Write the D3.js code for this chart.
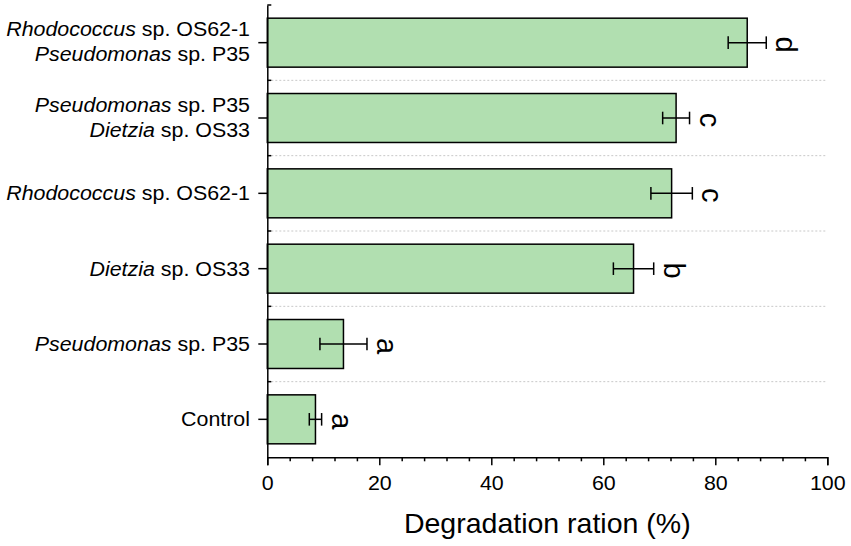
<!DOCTYPE html>
<html>
<head>
<meta charset="utf-8">
<script src="https://cdn.jsdelivr.net/npm/d3@7"></script>
<style>
  body { margin: 0; background: #fff; }
  text { font-family: "Liberation Sans", Arial, sans-serif; fill: #000; }
</style>
</head>
<body>
<div id="chart"></div>
<script>
// each label is a list of lines, each line is [italic genus, rest]
const labels = [
    [["Rhodococcus", " sp. OS62-1"], ["Pseudomonas", " sp. P35"]],
    [["Pseudomonas", " sp. P35"], ["Dietzia", " sp. OS33"]],
    [["Rhodococcus", " sp. OS62-1"]],
    [["Dietzia", " sp. OS33"]],
    [["Pseudomonas", " sp. P35"]],
    [["", "Control"]]
];
const values = [85.7, 73.0, 72.2, 65.4, 13.6, 8.6];
const errors = [3.4, 2.4, 3.7, 3.6, 4.2, 1.1];
const letters = ["d", "c", "c", "b", "a", "a"];
const xTicks = [0, 20, 40, 60, 80, 100];
const xMinor = d3.range(0, 101, 4).filter(v => v % 20 !== 0);

const W = 851, H = 546;
const stretch = 1.07;   // source text is drawn a little wide

const svg = d3.select('#chart')
    .append('svg')
    .attr('width', W)
    .attr('height', H)
    .attr('viewBox', `0 0 ${W} ${H}`);

const x = d3.scaleLinear().domain([0, 100]).range([267.3, 827.3]);
const idx = d3.range(labels.length);
const y = d3.scaleBand().domain(idx).range([5, 457]).paddingInner(0.35).paddingOuter(0.175);
const step = y.step();

// dotted separators between groups
svg.append('g')
    .selectAll('line')
    .data(d3.range(1, labels.length))
    .enter()
    .append('line')
    .attr('x1', x(0))
    .attr('x2', x(100))
    .attr('y1', d => y.range()[0] + d * step)
    .attr('y2', d => y.range()[0] + d * step)
    .attr('stroke', '#c8c8c8')
    .attr('stroke-width', 1)
    .attr('stroke-dasharray', '2,2');

// bars
svg.append('g')
    .selectAll('rect')
    .data(idx)
    .enter()
    .append('rect')
    .attr('x', x(0))
    .attr('y', i => y(i))
    .attr('width', i => x(values[i]) - x(0))
    .attr('height', y.bandwidth())
    .attr('fill', '#b1dfb0')
    .attr('stroke', '#000')
    .attr('stroke-width', 1.5);

// error bars
const eb = svg.append('g').attr('stroke', '#000').attr('stroke-width', 1.5);
idx.forEach(i => {
    const cy = y(i) + y.bandwidth() / 2;
    const lo = x(values[i] - errors[i]), hi = x(values[i] + errors[i]);
    eb.append('line').attr('x1', lo).attr('x2', hi).attr('y1', cy).attr('y2', cy);
    eb.append('line').attr('x1', lo).attr('x2', lo).attr('y1', cy - 6.3).attr('y2', cy + 6.3);
    eb.append('line').attr('x1', hi).attr('x2', hi).attr('y1', cy - 6.3).attr('y2', cy + 6.3);
});

// significance letters, turned on their side
svg.append('g')
    .selectAll('text')
    .data(idx)
    .enter()
    .append('text')
    .attr('text-anchor', 'middle')
    .style('font-size', '29px')
    .attr('transform', i => 'translate(' + [x(values[i] + errors[i]) + 10, y(i) + y.bandwidth() / 2 + 2] + ') rotate(90)')
    .text(i => letters[i]);

// x axis
const xAxis = svg.append('g')
    .attr('transform', 'translate(0,457.3)')
    .call(d3.axisBottom(x).tickValues(xTicks).tickSize(8).tickPadding(11).tickFormat(d3.format('d')));
xAxis.select('.domain').attr('stroke-width', 1.5);
xAxis.selectAll('.tick line').attr('stroke-width', 1.5);
xAxis.selectAll('.tick text')
    .style('font-size', '20px')
    .attr('transform', `scale(${stretch},1)`);

const xMin = svg.append('g')
    .attr('transform', 'translate(0,457.3)')
    .call(d3.axisBottom(x).tickValues(xMinor).tickSize(4).tickFormat(''));
xMin.select('.domain').remove();
xMin.selectAll('.tick line').attr('stroke-width', 1.5);

// y axis
const yAxis = svg.append('g')
    .attr('transform', `translate(${x(0)},0)`)
    .call(d3.axisLeft(y).tickSize(9).tickSizeOuter(0).tickFormat(''));
yAxis.select('.domain').attr('stroke-width', 1.5);
yAxis.selectAll('.tick line').attr('stroke-width', 1.5);

// short inner ticks at group borders
svg.append('g')
    .selectAll('line')
    .data(d3.range(0, labels.length))
    .enter()
    .append('line')
    .attr('x1', x(0))
    .attr('x2', x(0) + 4)
    .attr('y1', d => y.range()[0] + d * step)
    .attr('y2', d => y.range()[0] + d * step)
    .attr('stroke', '#000')
    .attr('stroke-width', 1.5);

// category labels
const lab = svg.append('g');
idx.forEach(i => {
    const cy = y(i) + y.bandwidth() / 2;
    const lines = labels[i];
    lines.forEach((ln, k) => {
        const base = lines.length === 1 ? cy + 7 : cy - 6.3 + k * 25;
        const t = lab.append('text')
            .attr('text-anchor', 'end')
            .style('font-size', '20px')
            .attr('transform', `translate(250,${base}) scale(${stretch},1)`);
        if (ln[0]) t.append('tspan').style('font-style', 'italic').text(ln[0]);
        t.append('tspan').text(ln[1]);
    });
});

// axis title
svg.append('text')
    .attr('x', (x(0) + x(100)) / 2)
    .attr('y', 533)
    .attr('text-anchor', 'middle')
    .style('font-size', '28.5px')
    .text('Degradation ration (%)');
</script>
</body>
</html>
